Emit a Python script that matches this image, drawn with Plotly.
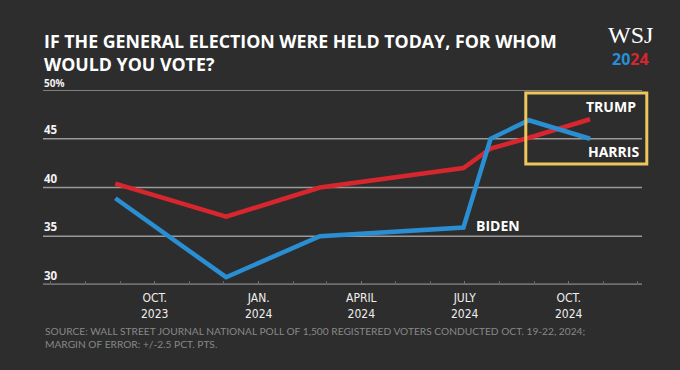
import plotly.graph_objects as go

# ---- data ----
poll_dates = ["2023-08-27", "2023-12-03", "2024-02-24", "2024-06-30",
              "2024-07-24", "2024-08-27", "2024-10-20"]
trump = [40.4, 37.0, 40.0, 42.0, 44.0, 45.1, 47.0]
biden_harris = [38.9, 30.8, 35.0, 35.9, 45.0, 46.9, 45.0]

y_ticks = [30, 35, 40, 45, 50]
y_tick_labels = ["30", "35", "40", "45", "50%"]
x_ticks = ["2023-10-01", "2024-01-01", "2024-04-01", "2024-07-01", "2024-10-01"]
x_tick_months = ["OCT.", "JAN.", "APRIL", "JULY", "OCT."]
x_tick_years = ["2023", "2024", "2024", "2024", "2024"]

title_lines = ["IF THE GENERAL ELECTION WERE HELD TODAY, FOR WHOM", "WOULD YOU VOTE?"]
source_lines = ["SOURCE: WALL STREET JOURNAL NATIONAL POLL OF 1,500 REGISTERED VOTERS CONDUCTED OCT. 19-22, 2024;",
                "MARGIN OF ERROR: +/-2.5 PCT. PTS."]

BG = "#2d2d2d"
RED = "#d8262e"
BLUE = "#2a8ed3"
GOLD = "#eec65c"
FONT = "Open Sans"
NARROW = "DejaVu Sans Condensed, Roboto, sans-serif"

fig = go.Figure()
fig.add_trace(go.Scatter(x=poll_dates, y=trump, mode="lines",
                         line=dict(color=RED, width=4.5), hoverinfo="skip"))
fig.add_trace(go.Scatter(x=poll_dates, y=biden_harris, mode="lines",
                         line=dict(color=BLUE, width=4.5), hoverinfo="skip"))

fig.update_layout(
    width=680, height=370,
    paper_bgcolor=BG, plot_bgcolor=BG,
    margin=dict(l=43, r=38, t=90, b=85),
    showlegend=False,
    xaxis=dict(type="date", range=["2023-06-24", "2024-12-05"],
               tickvals=x_ticks, showticklabels=False,
               showgrid=False, zeroline=False, showline=False,
               ticks="inside", ticklen=4, tickcolor="#707070", tickwidth=1,
               minor=dict(dtick="M1", tick0="2023-07-01", ticks="inside",
                          ticklen=4, tickcolor="#666666", showgrid=False)),
    yaxis=dict(range=[30, 50], showgrid=False, zeroline=False, showline=False,
               showticklabels=False, ticks=""),
)

# gridlines (shapes so the 30 baseline can be thicker)
for v in y_ticks:
    fig.add_shape(type="line", xref="paper", yref="y", x0=0, x1=1, y0=v, y1=v,
                  line=dict(color="#6f6f6f" if v == 30 else "#9a9a9a",
                            width=3.5 if v == 30 else 1.3),
                  layer="below")

# y labels above gridlines
for v, t in zip(y_ticks, y_tick_labels):
    pct = t.endswith("%")
    fig.add_annotation(x=0.0, xref="paper", y=float(v), yref="y",
                       text="<b>" + t + "</b>", showarrow=False,
                       xanchor="left", yanchor="bottom", yshift=-2 if pct else 0, xshift=-1,
                       font=dict(family=FONT, size=10 if pct else 11.5,
                                 color="#f2f2f2"))

# x tick labels (month over year)
for d, m, yv in zip(x_ticks, x_tick_months, x_tick_years):
    fig.add_annotation(x=d, xref="x", y=0, yref="paper", yanchor="middle",
                       yshift=-21, text=m + "<br>" + yv, showarrow=False,
                       font=dict(family=NARROW, size=12, color="#efefef"))

# series labels
fig.add_annotation(x=1, xref="paper", xanchor="right", xshift=-4, y=48.3, yref="y",
                   text="<b>TRUMP</b>", showarrow=False,
                   font=dict(family=FONT, size=14, color="#ffffff"))
fig.add_annotation(x=1, xref="paper", xanchor="right", xshift=-1, y=43.7, yref="y",
                   text="<b>HARRIS</b>", showarrow=False,
                   font=dict(family=FONT, size=14, color="#ffffff"))
fig.add_annotation(x=poll_dates[3], xref="x", xanchor="left", xshift=11, y=36.1, yref="y",
                   text="<b>BIDEN</b>", showarrow=False,
                   font=dict(family=FONT, size=14, color="#ffffff"))

# title
for i, line in enumerate(title_lines):
    fig.add_annotation(x=0, xref="paper", xanchor="left", xshift=-1, y=1, yref="paper",
                       yanchor="middle", yshift=49 - 23 * i, text="<b>" + line + "</b>",
                       showarrow=False,
                       font=dict(family=FONT, size=17.8, color="#ffffff"))

# WSJ 2024 logo
fig.add_annotation(x=1, xref="paper", xanchor="center", xshift=-12, y=1, yref="paper",
                   yanchor="middle", yshift=55, text="WSJ", showarrow=False,
                   font=dict(family="Liberation Serif", size=24, color="#ffffff"))
fig.add_annotation(x=1, xref="paper", xanchor="center", xshift=-12, y=1, yref="paper",
                   yanchor="middle", yshift=31,
                   text="<b><span style='color:%s'>20</span><span style='color:%s'>24</span></b>" % (BLUE, RED),
                   showarrow=False, font=dict(family=FONT, size=16))

# source
for i, line in enumerate(source_lines):
    fig.add_annotation(x=0, xref="paper", xanchor="left", xshift=0, y=0, yref="paper",
                       yanchor="middle", yshift=-46 - 13 * i, text=line, showarrow=False,
                       font=dict(family="Lato", size=10.2, color="#888888"))

# highlight box
fig.add_shape(type="rect", xref="paper", yref="paper",
              x0=0.806, x1=1.008, y0=0.62, y1=0.985,
              line=dict(color=GOLD, width=3), layer="above")

fig.write_html("out.html", config={"displayModeBar": False},
               post_script="document.body.style.margin='0';")
